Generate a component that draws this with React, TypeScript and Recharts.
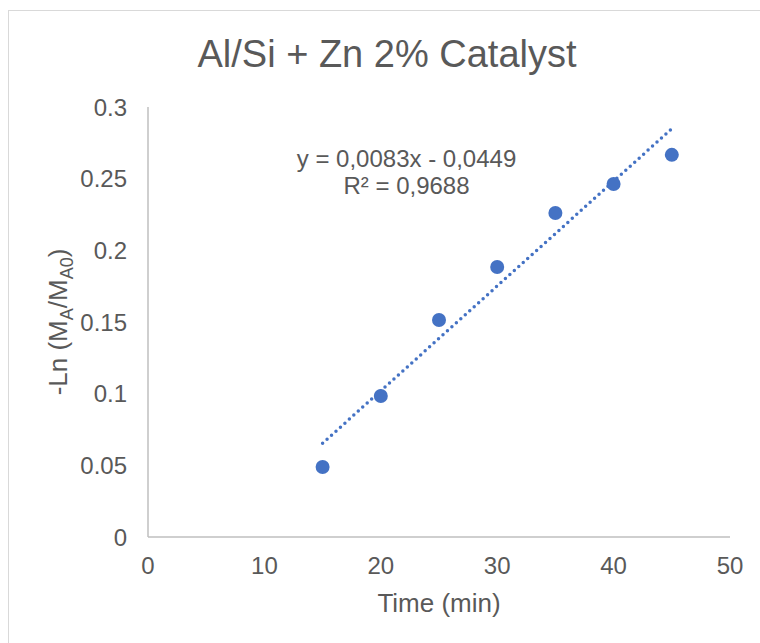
import { ScatterChart, Scatter, XAxis, YAxis, ReferenceLine, Label } from "recharts";

const TIME_MIN = [15, 20, 25, 30, 35, 40, 45];
const NEG_LN_RATIO = [0.0488, 0.0984, 0.1514, 0.1884, 0.226, 0.2463, 0.2666];
const X_TICKS = [0, 10, 20, 30, 40, 50];
const Y_TICKS = [0, 0.05, 0.1, 0.15, 0.2, 0.25, 0.3];
const TITLE = "Al/Si + Zn 2% Catalyst";
const EQUATION = "y = 0,0083x - 0,0449";
const R_SQUARED = "R² = 0,9688";

const BLUE = "#4472C4";
const TEXT = "#595959";
const AXIS = "#BFBFBF";
const FONT = "'Liberation Sans', Arial, sans-serif";

const points = TIME_MIN.map((t, i) => ({ t, v: NEG_LN_RATIO[i] }));

// least squares fit, drawn from first to last x like excel does
const n = points.length;
const mx = points.reduce((s, p) => s + p.t, 0) / n;
const my = points.reduce((s, p) => s + p.v, 0) / n;
const slope =
  points.reduce((s, p) => s + (p.t - mx) * (p.v - my), 0) /
  points.reduce((s, p) => s + (p.t - mx) ** 2, 0);
const icept = my - slope * mx;
const x0 = TIME_MIN[0];
const x1 = TIME_MIN[n - 1];
const trend = [
  { x: x0, y: slope * x0 + icept },
  { x: x1, y: slope * x1 + icept },
];

const Dot = (p: any) => <circle cx={p.cx} cy={p.cy} r={7} fill={BLUE} />;

export default function App() {
  return (
    <div style={{ position: "absolute", left: 0, top: 0, width: 760, height: 643, overflow: "hidden", background: "#fff", fontFamily: FONT }}>
      <div style={{ position: "absolute", left: 8, top: 10, width: 800, height: 700, border: "1px solid #D9D9D9" }} />
      <div style={{ position: "absolute", left: 0, top: 0 }}>
        <ScatterChart width={760} height={643} margin={{ top: 107, right: 30, bottom: 26, left: 68 }}>
          <XAxis
            type="number"
            dataKey="t"
            domain={[0, 50]}
            ticks={X_TICKS}
            tickLine={false}
            tickSize={0}
            tickMargin={20}
            height={80}
            axisLine={{ stroke: AXIS, strokeWidth: 1.5 }}
            tick={{ fill: TEXT, fontSize: 24, fontFamily: FONT }}
          >
            <Label
              content={() => (
                <text x={439} y={612} textAnchor="middle" fill={TEXT} fontSize={26} fontFamily={FONT}>
                  Time (min)
                </text>
              )}
            />
          </XAxis>
          <YAxis
            type="number"
            dataKey="v"
            domain={[0, 0.3]}
            ticks={Y_TICKS}
            tickLine={false}
            tickSize={0}
            tickMargin={21}
            width={80}
            axisLine={{ stroke: AXIS, strokeWidth: 1.5 }}
            tick={{ fill: TEXT, fontSize: 24, fontFamily: FONT }}
          >
            <Label
              content={() => (
                <text transform="translate(67,322) rotate(-90)" x={0} y={0} textAnchor="middle" fill={TEXT} fontSize={26} fontFamily={FONT}>
                  -Ln (M
                  <tspan dy={6} fontSize={18}>A</tspan>
                  <tspan dy={-6}>/M</tspan>
                  <tspan dy={6} fontSize={18}>A0</tspan>
                  <tspan dy={-6}>)</tspan>
                </text>
              )}
            />
          </YAxis>
          <ReferenceLine
            segment={trend}
            stroke={BLUE}
            strokeWidth={3.5}
            strokeDasharray="0 6"
            strokeLinecap="round"
          />
          <Scatter data={points} shape={Dot} isAnimationActive={false} />
        </ScatterChart>
      </div>
      <svg width={760} height={643} style={{ position: "absolute", left: 0, top: 0, pointerEvents: "none" }}>
        <text x={387} y={67} textAnchor="middle" fill={TEXT} fontSize={38} fontFamily={FONT}>
          {TITLE}
        </text>
        <text x={406.5} y={167} textAnchor="middle" fill={TEXT} fontSize={24} fontFamily={FONT}>
          {EQUATION}
        </text>
        <text x={406.5} y={194} textAnchor="middle" fill={TEXT} fontSize={24} fontFamily={FONT}>
          {R_SQUARED}
        </text>
      </svg>
    </div>
  );
}
